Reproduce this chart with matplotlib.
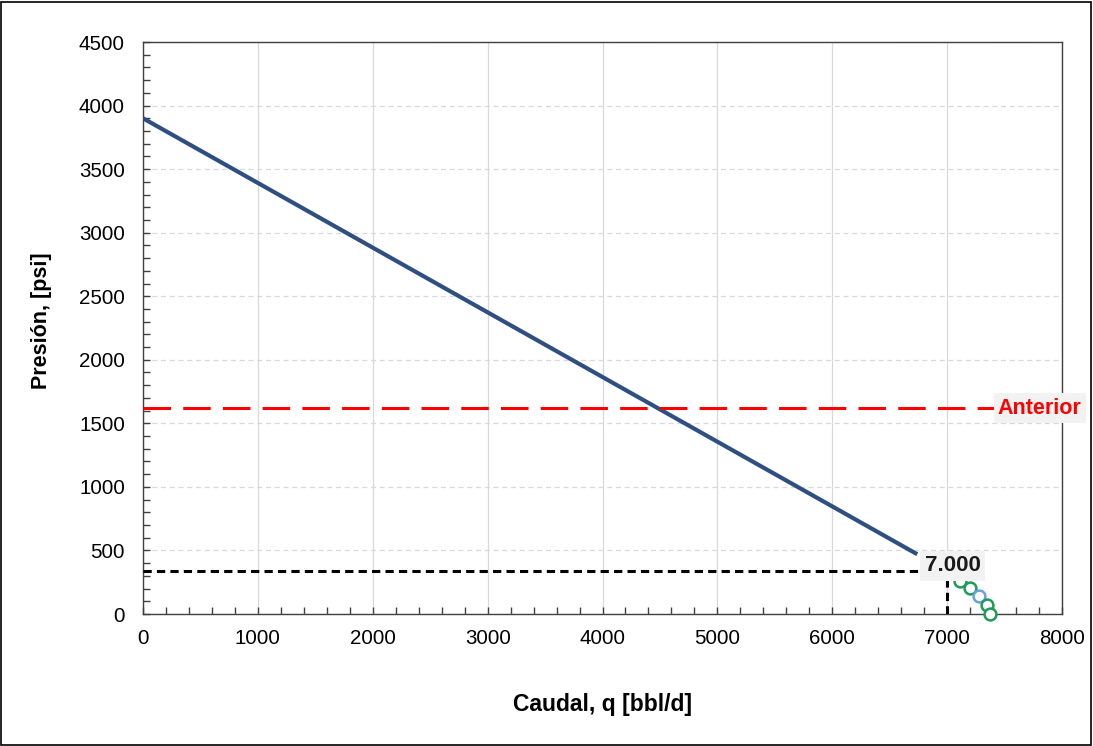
import matplotlib
matplotlib.use("Agg")
import matplotlib.pyplot as plt
from matplotlib.ticker import MultipleLocator
from matplotlib.patches import Rectangle

plt.rcParams['font.family'] = ['Liberation Sans', 'DejaVu Sans']

# IPR straight line
ipr_q = [0, 6740]
ipr_p = [3900, 470]

# previous pressure level
anterior_p = 1620

# operating point
op_q = 7000
op_p = 338
op_label = "7.000"

# pump curve points
pts_q = [7110, 7203, 7277, 7343, 7372]
pts_p = [260, 207, 142, 71, 3]
pts_col = ['#1E9B57', '#1E9B57', '#6A9FD8', '#1E9B57', '#1E9B57']

fig = plt.figure(figsize=(10.93, 7.46), dpi=100)
ax = fig.add_axes([143/1093, 1 - 614/746, (1062-143)/1093, (614-42)/746])

ax.set_xlim(0, 8000)
ax.set_ylim(0, 4500)
ax.xaxis.set_major_locator(MultipleLocator(1000))
ax.xaxis.set_minor_locator(MultipleLocator(200))
ax.yaxis.set_major_locator(MultipleLocator(500))
ax.yaxis.set_minor_locator(MultipleLocator(100))
ax.tick_params(which='both', direction='in', length=5, width=1, color='#404040')
ax.tick_params(which='major', labelsize=14.8)
ax.tick_params(axis='y', which='major', pad=13)
ax.tick_params(axis='x', which='major', pad=11)
ax.xaxis.grid(True, color='#d9d9d9', linestyle='-', linewidth=0.9)
ax.yaxis.grid(True, color='#d9d9d9', linestyle=(0, (4, 3)), linewidth=0.9)
ax.set_axisbelow(True)
for s in ax.spines.values():
    s.set_color('#404040')
    s.set_linewidth(1)

ax.plot(ipr_q, ipr_p, color='#2F4F82', linewidth=3, solid_capstyle='butt', zorder=3)
ax.axhline(anterior_p, xmin=0, xmax=0.995, color='#FF0000', linewidth=2.2,
           linestyle=(0, (9, 4)), zorder=3)
ax.plot([0, op_q], [op_p, op_p], color='black', linewidth=2.2, linestyle=(0, (2.7, 1.7)), zorder=4)
ax.plot([op_q, op_q], [0, op_p], color='black', linewidth=2.2, linestyle=(0, (2.7, 1.7)), zorder=4)

for q, p, c in zip(pts_q, pts_p, pts_col):
    ax.plot(q, p, 'o', markersize=8.5, markerfacecolor='white', markeredgecolor=c,
            markeredgewidth=1.8, zorder=5, clip_on=False)

ax.text(7048, 378, op_label, ha='center', va='center', fontsize=16, fontweight='bold',
        color='#1a1a1a', zorder=6,
        bbox=dict(facecolor='#f2f2f2', edgecolor='none', boxstyle='square,pad=0.22'))
ax.text(7807, anterior_p, "Anterior", ha='center', va='center', fontsize=15.5,
        fontweight='bold', color='#FF0000', zorder=6, clip_on=False,
        bbox=dict(facecolor='#f2f2f2', edgecolor='none', boxstyle='square,pad=0.2'))

ax.set_xlabel("Caudal, q [bbl/d]", fontsize=16.5, fontweight='bold', labelpad=32)
ax.set_ylabel("Presión, [psi]", fontsize=15.5, fontweight='bold')
ax.yaxis.set_label_coords(-0.099, 0.512)

fig.patches.append(Rectangle((0.001, 0.002), 0.997, 0.995, transform=fig.transFigure,
                             fill=False, edgecolor='black', linewidth=1.2))

fig.savefig("out.png", dpi=100)
